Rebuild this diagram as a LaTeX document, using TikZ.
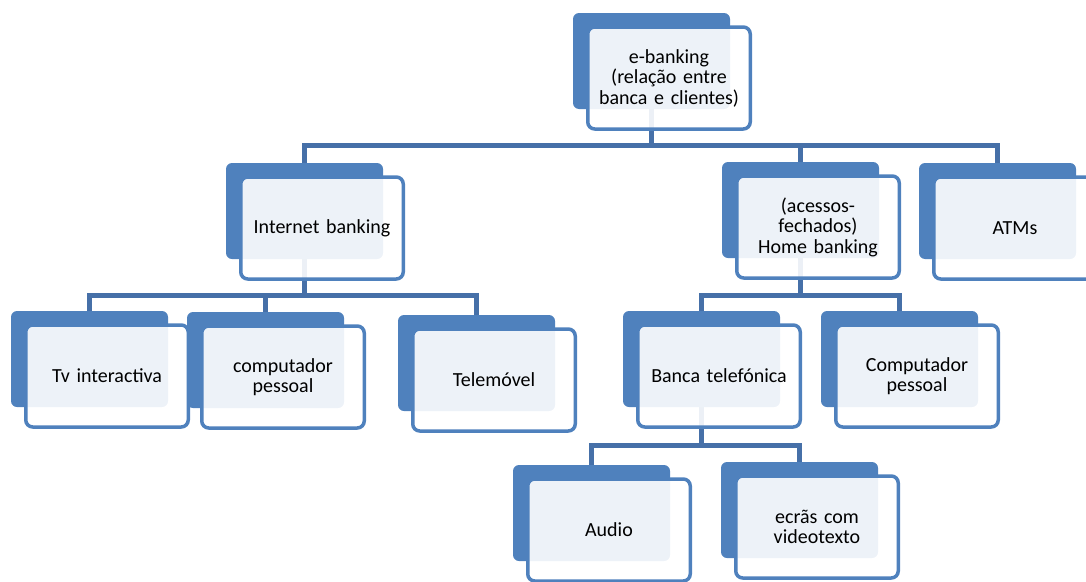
\documentclass[tikz,border=0pt]{standalone}
\usepackage{fontspec}
\setmainfont{Carlito}
\usepackage{tikz}
\usetikzlibrary{backgrounds}
\definecolor{boxblue}{RGB}{79,129,189}
\definecolor{linkblue}{RGB}{70,112,168}

\begin{document}
\begin{tikzpicture}[x=1pt,y=-1pt,
	backbox/.style={fill=boxblue,rounded corners=6pt,minimum width=157pt,minimum height=96pt,inner sep=0pt},
	frontbox/.style={draw=boxblue,line width=3.5pt,fill=white,fill opacity=0.9,text opacity=1,rounded corners=7pt,
		minimum width=162.5pt,minimum height=102pt,inner sep=0pt,text width=155pt,align=center,
		font=\fontsize{20}{20.5}\selectfont},
	link/.style={draw=linkblue,line width=5pt}]
	\useasboundingbox (0,0) rectangle (1086,581);
	
	%BOXES (back corner x / y)
	\foreach \nm/\x/\y/\txt in {
		ebank/573/13/{e-banking\\(relação entre\\banca e clientes)},
		inet/226/163/{Internet banking},
		home/722/162/{(acessos-\\fechados)\\Home banking},
		atm/919/163/{ATMs},
		tv/11/311/{Tv interactiva},
		comp/187/312/{computador\\pessoal},
		tele/398/315/{Telemóvel},
		banca/623/311/{Banca telefónica},
		comptwo/821/311/{Computador\\pessoal},
		audio/513/465/{Audio},
		ecras/721/462/{ecrãs com\\videotexto}}{
		\node[backbox] (\nm) at (\x+78.5,\y+48) {};
		\node[frontbox] (\nm-f) at (\x+96,\y+65) {\txt};
	}
	
	%CONNECTORS
	\begin{pgfonlayer}{background}
		\foreach \p/\c/\by in {ebank/inet/145,ebank/home/145,ebank/atm/145,
			inet/tv/295,inet/comp/295,inet/tele/295,
			home/banca/295,home/comptwo/295,
			banca/audio/445,banca/ecras/445}{
			\draw[link] (\p.south) -- (\p.south |- 0,\by) -| (\c.north);
		}
	\end{pgfonlayer}
\end{tikzpicture}
\end{document}
